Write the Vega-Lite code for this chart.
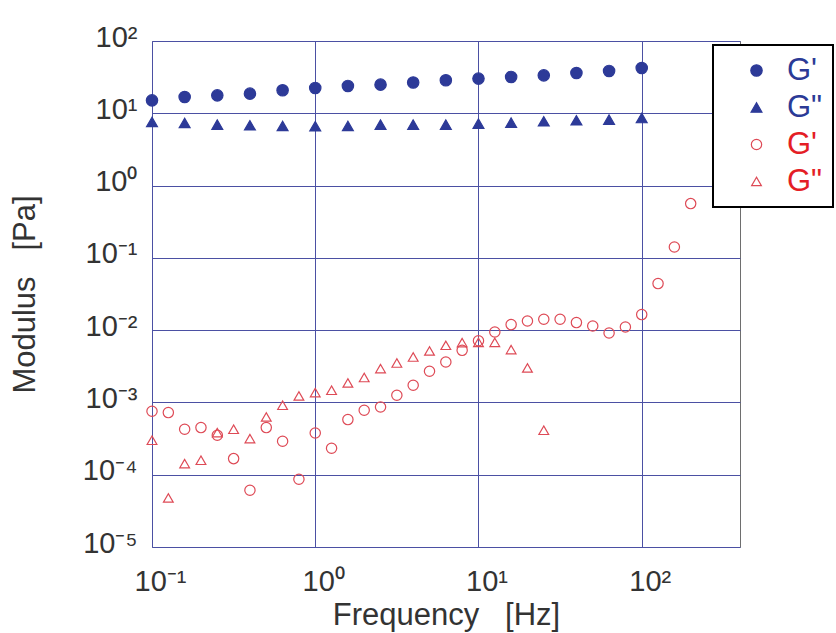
{
  "$schema": "https://vega.github.io/schema/vega-lite/v6.json",
  "autosize": {"type": "none"},
  "padding": {"left": 152, "top": 41, "right": 96, "bottom": 86},
  "width": 588,
  "height": 506,
  "background": "white",
  "config": {
    "font": "Liberation Sans",
    "view": {"stroke": "#6e6e6e", "strokeWidth": 1}
  },
  "data": {
    "values": [
      {"f": 0.1, "G": 15.1, "s": "b1"},
      {"f": 0.1585, "G": 16.8, "s": "b1"},
      {"f": 0.2512, "G": 17.7, "s": "b1"},
      {"f": 0.3981, "G": 18.7, "s": "b1"},
      {"f": 0.631, "G": 20.8, "s": "b1"},
      {"f": 1, "G": 22.4, "s": "b1"},
      {"f": 1.585, "G": 23.9, "s": "b1"},
      {"f": 2.512, "G": 24.9, "s": "b1"},
      {"f": 3.981, "G": 26.6, "s": "b1"},
      {"f": 6.31, "G": 28.6, "s": "b1"},
      {"f": 10, "G": 30.2, "s": "b1"},
      {"f": 15.85, "G": 31.8, "s": "b1"},
      {"f": 25.12, "G": 33.5, "s": "b1"},
      {"f": 39.81, "G": 36.1, "s": "b1"},
      {"f": 63.1, "G": 38.5, "s": "b1"},
      {"f": 100, "G": 42.3, "s": "b1"},
      {"f": 0.1, "G": 7.58, "s": "b2"},
      {"f": 0.1585, "G": 7.34, "s": "b2"},
      {"f": 0.2512, "G": 6.98, "s": "b2"},
      {"f": 0.3981, "G": 6.82, "s": "b2"},
      {"f": 0.631, "G": 6.67, "s": "b2"},
      {"f": 1, "G": 6.61, "s": "b2"},
      {"f": 1.585, "G": 6.67, "s": "b2"},
      {"f": 2.512, "G": 6.98, "s": "b2"},
      {"f": 3.981, "G": 6.98, "s": "b2"},
      {"f": 6.31, "G": 6.98, "s": "b2"},
      {"f": 10, "G": 7.2, "s": "b2"},
      {"f": 15.85, "G": 7.43, "s": "b2"},
      {"f": 25.12, "G": 7.75, "s": "b2"},
      {"f": 39.81, "G": 8.0, "s": "b2"},
      {"f": 63.1, "G": 8.18, "s": "b2"},
      {"f": 100, "G": 8.6, "s": "b2"},
      {"f": 0.1, "G": 0.000754, "s": "r1"},
      {"f": 0.1259, "G": 0.000724, "s": "r1"},
      {"f": 0.1585, "G": 0.000425, "s": "r1"},
      {"f": 0.1995, "G": 0.000449, "s": "r1"},
      {"f": 0.2512, "G": 0.000351, "s": "r1"},
      {"f": 0.3162, "G": 0.000167, "s": "r1"},
      {"f": 0.3981, "G": 0.0000609, "s": "r1"},
      {"f": 0.5012, "G": 0.000449, "s": "r1"},
      {"f": 0.631, "G": 0.00029, "s": "r1"},
      {"f": 0.7943, "G": 0.0000865, "s": "r1"},
      {"f": 1, "G": 0.000378, "s": "r1"},
      {"f": 1.259, "G": 0.000232, "s": "r1"},
      {"f": 1.585, "G": 0.000579, "s": "r1"},
      {"f": 1.995, "G": 0.000779, "s": "r1"},
      {"f": 2.512, "G": 0.000865, "s": "r1"},
      {"f": 3.162, "G": 0.001256, "s": "r1"},
      {"f": 3.981, "G": 0.001727, "s": "r1"},
      {"f": 5.012, "G": 0.0027, "s": "r1"},
      {"f": 6.31, "G": 0.00363, "s": "r1"},
      {"f": 7.943, "G": 0.00526, "s": "r1"},
      {"f": 10, "G": 0.00713, "s": "r1"},
      {"f": 12.59, "G": 0.00943, "s": "r1"},
      {"f": 15.85, "G": 0.01194, "s": "r1"},
      {"f": 19.95, "G": 0.01339, "s": "r1"},
      {"f": 25.12, "G": 0.01413, "s": "r1"},
      {"f": 31.62, "G": 0.01413, "s": "r1"},
      {"f": 39.81, "G": 0.01272, "s": "r1"},
      {"f": 50.12, "G": 0.01142, "s": "r1"},
      {"f": 63.1, "G": 0.00913, "s": "r1"},
      {"f": 79.43, "G": 0.01106, "s": "r1"},
      {"f": 100, "G": 0.01641, "s": "r1"},
      {"f": 125.9, "G": 0.04406, "s": "r1"},
      {"f": 158.5, "G": 0.1413, "s": "r1"},
      {"f": 199.5, "G": 0.563, "s": "r1"},
      {"f": 0.1, "G": 0.0002995, "s": "r2"},
      {"f": 0.1259, "G": 0.0000477, "s": "r2"},
      {"f": 0.1585, "G": 0.0001426, "s": "r2"},
      {"f": 0.1995, "G": 0.0001584, "s": "r2"},
      {"f": 0.2512, "G": 0.000383, "s": "r2"},
      {"f": 0.3162, "G": 0.000425, "s": "r2"},
      {"f": 0.3981, "G": 0.000316, "s": "r2"},
      {"f": 0.5012, "G": 0.000629, "s": "r2"},
      {"f": 0.631, "G": 0.000913, "s": "r2"},
      {"f": 0.7943, "G": 0.001228, "s": "r2"},
      {"f": 1, "G": 0.001369, "s": "r2"},
      {"f": 1.259, "G": 0.001473, "s": "r2"},
      {"f": 1.585, "G": 0.001858, "s": "r2"},
      {"f": 1.995, "G": 0.00221, "s": "r2"},
      {"f": 2.512, "G": 0.00294, "s": "r2"},
      {"f": 3.162, "G": 0.00351, "s": "r2"},
      {"f": 3.981, "G": 0.00425, "s": "r2"},
      {"f": 5.012, "G": 0.00515, "s": "r2"},
      {"f": 6.31, "G": 0.00617, "s": "r2"},
      {"f": 7.943, "G": 0.00673, "s": "r2"},
      {"f": 10, "G": 0.00678, "s": "r2"},
      {"f": 12.59, "G": 0.00678, "s": "r2"},
      {"f": 15.85, "G": 0.00538, "s": "r2"},
      {"f": 19.95, "G": 0.003, "s": "r2"},
      {"f": 25.12, "G": 0.000412, "s": "r2"}
    ]
  },
  "mark": {"type": "point", "strokeWidth": 1.2, "opacity": 1},
  "encoding": {
    "x": {
      "field": "f",
      "type": "quantitative",
      "scale": {"type": "log", "domain": [0.1, 400], "nice": false},
      "axis": {
        "values": [0.1, 1, 10, 100],
        "labelExpr": "'10' + ['⁻¹','⁰','¹','²'][round(log(datum.value)/LN10)+1]",
        "grid": true,
        "gridColor": "#4b50a3",
        "gridWidth": 1,
        "gridOpacity": 1,
        "domain": false,
        "ticks": false,
        "tickSize": 0,
        "labelFlush": false,
        "labelOverlap": false,
        "labelFontSize": 29,
        "labelColor": "#333333",
        "labelBaseline": "alphabetic",
        "labelPadding": 43,
        "labelOffset": 8,
        "title": "Frequency\u00a0\u00a0\u00a0[Hz]",
        "titleFontSize": 31,
        "titleFontWeight": "normal",
        "titleColor": "#333333",
        "titleX": 294,
        "titleY": 77,
        "titleBaseline": "alphabetic"
      }
    },
    "y": {
      "field": "G",
      "type": "quantitative",
      "scale": {"type": "log", "domain": [0.00001, 100], "nice": false},
      "axis": {
        "values": [0.00001, 0.0001, 0.001, 0.01, 0.1, 1, 10, 100],
        "labelExpr": "'10' + ['⁻⁵','⁻⁴','⁻³','⁻²','⁻¹','⁰','¹','²'][round(log(datum.value)/LN10)+5]",
        "grid": true,
        "gridColor": "#4b50a3",
        "gridWidth": 1,
        "gridOpacity": 1,
        "domain": false,
        "ticks": false,
        "tickSize": 0,
        "labelFlush": false,
        "labelOverlap": false,
        "labelFontSize": 29,
        "labelColor": "#333333",
        "labelAlign": "right",
        "labelBaseline": "middle",
        "labelPadding": 15,
        "labelOffset": -4,
        "title": "Modulus\u00a0\u00a0\u00a0[Pa]",
        "titleFontSize": 31,
        "titleFontWeight": "normal",
        "titleColor": "#333333",
        "titleX": -127,
        "titleY": 253,
        "titleAngle": -90,
        "titleBaseline": "middle",
        "titleAlign": "center"
      }
    },
    "shape": {
      "field": "s",
      "type": "nominal",
      "scale": {"domain": ["b1", "b2", "r1", "r2"], "range": ["circle", "triangle-up", "circle", "triangle-up"]},
      "legend": {
        "orient": "none",
        "legendX": 561,
        "legendY": 4,
        "title": null,
        "labelFontSize": 31,
        "labelFont": "Liberation Sans",
        "labelExpr": "'G' + (indexof(['b1','r1'], datum.label) >= 0 ? \"'\" : '\"')",
        "padding": 10,
        "strokeColor": "black",
        "fillColor": "white",
        "rowPadding": 5,
        "symbolOffset": 18,
        "labelOffset": 15,
        "symbolStrokeWidth": 1.2,
        "encoding": {
          "labels": {"fill": {"condition": {"test": "indexof(['b1','b2'], datum.value) >= 0", "value": "#2b3a96"}, "value": "#e41e26"}},
          "legend": {"strokeWidth": {"value": 2}}
        }
      }
    },
    "stroke": {
      "field": "s",
      "type": "nominal",
      "scale": {"domain": ["b1", "b2", "r1", "r2"], "range": ["#2d3a98", "#2d3a98", "#de4a56", "#de4a56"]},
      "legend": {"title": null}
    },
    "fill": {
      "field": "s",
      "type": "nominal",
      "scale": {"domain": ["b1", "b2", "r1", "r2"], "range": ["#2d3a98", "#2d3a98", "transparent", "transparent"]},
      "legend": {"title": null}
    },
    "size": {
      "field": "s",
      "type": "nominal",
      "scale": {"domain": ["b1", "b2", "r1", "r2"], "range": [130, 95, 170, 150]},
      "legend": {"title": null}
    }
  }
}
